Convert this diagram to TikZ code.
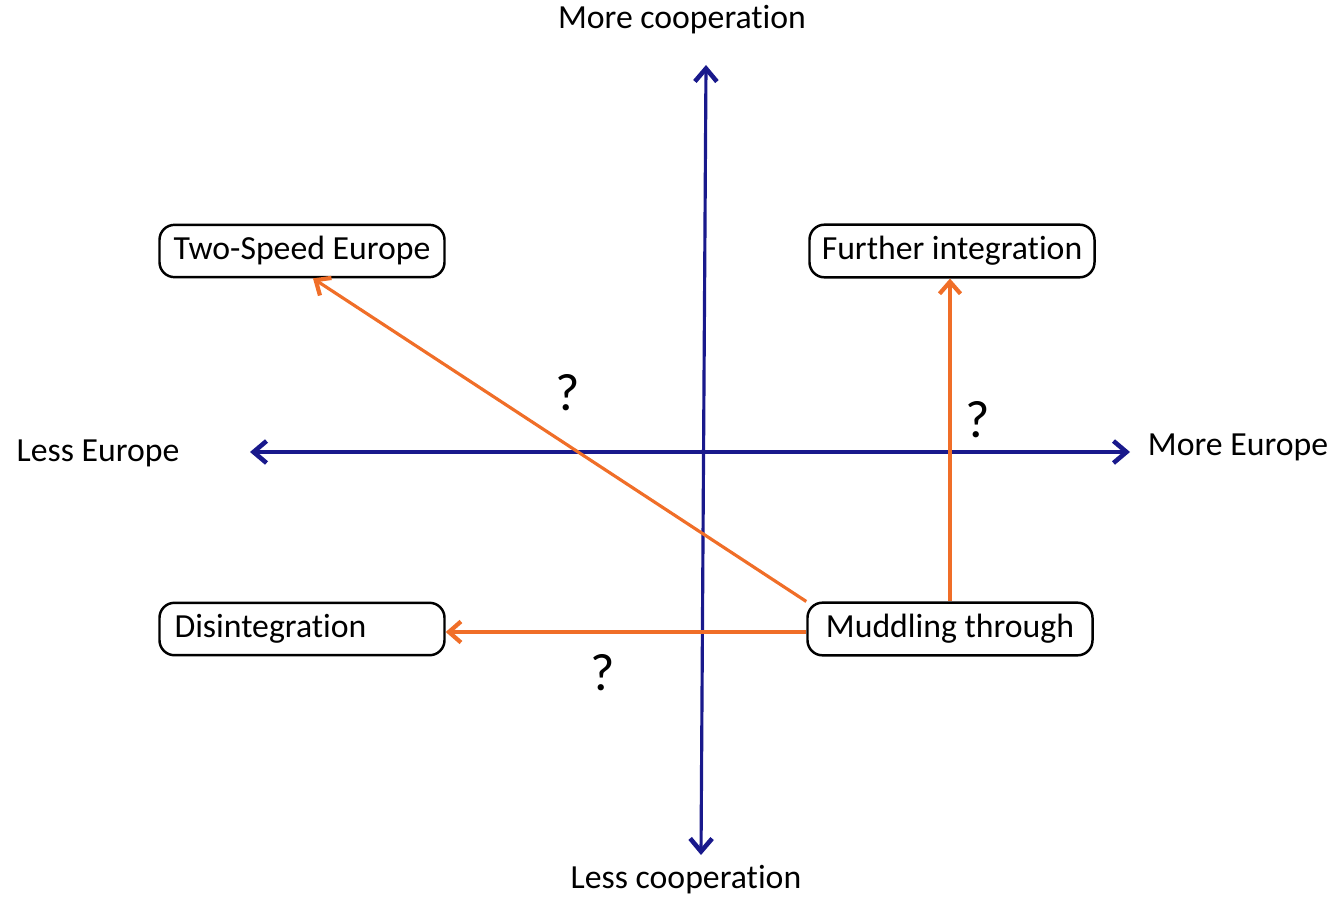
\documentclass[tikz,border=0pt]{standalone}
\usepackage{fontspec}
\setmainfont[Ligatures=NoCommon]{Carlito}
\usetikzlibrary{arrows.meta, positioning}

\definecolor{axisblue}{RGB}{25,25,140}
\definecolor{pathorange}{RGB}{240,110,40}

\tikzset{
  axis/.style={draw=axisblue, line width=0.9pt, {Straight Barb[length=1.3mm, width=2.2mm, line width=1.3pt]}-{Straight Barb[length=1.3mm, width=2.2mm, line width=1.3pt]}},
  path/.style={draw=pathorange, line width=0.9pt, -{Straight Barb[length=1.2mm, width=2.1mm, line width=1.2pt]}},
  scenario/.style={draw, rounded corners=1.5mm, line width=0.7pt, minimum width=2.85cm, minimum height=0.51cm},
  pole/.style={font=\fontsize{9.6}{11}\selectfont},
  query/.style={font=\fontsize{15}{17}\selectfont}
}

\begin{document}
\begin{tikzpicture}[font=\fontsize{9.6}{11}\selectfont]
    \useasboundingbox (0,0) rectangle (13.37,8.97);

    \coordinate (W) at (2.50,4.45);
    \coordinate (E) at (11.30,4.45);
    \coordinate (N) at (7.06,8.32);
    \coordinate (S) at (7.01,0.42);

    \node[pole] (more coop) at (6.82,8.77) {More cooperation};
    \node[pole] (less coop) at (6.86,0.17) {Less cooperation};
    \node[pole] (less eu) at (0.98,4.44) {Less Europe};
    \node[pole] (more eu) at (12.38,4.50) {More Europe};

    \node[scenario] (two) at (3.02,6.46) {Two-Speed Europe};
    \node[scenario] (further) at (9.52,6.46) {Further integration};
    \node[scenario, text width=2.55cm, inner xsep=1.5mm, align=left] (dis) at (3.02,2.68) {Disintegration};
    \node[scenario] (muddle) at (9.50,2.68) {Muddling through};

    \draw[axis] (W) -- (E);
    \draw[axis] (S) -- (N);

    \draw[path] (muddle.north west) -- ([xshift=1.1mm]two.south);
    \draw[path] (muddle.north) -- (muddle.north |- further.south);
    \draw[path] ([yshift=-0.3mm]muddle.west) -- ([yshift=-0.3mm]dis.east);

    \node[query] (q1) at (5.68,5.04) {?};
    \node[query] (q2) at (9.78,4.77) {?};
    \node[query] (q3) at (6.03,2.24) {?};
  \end{tikzpicture}
\end{document}
